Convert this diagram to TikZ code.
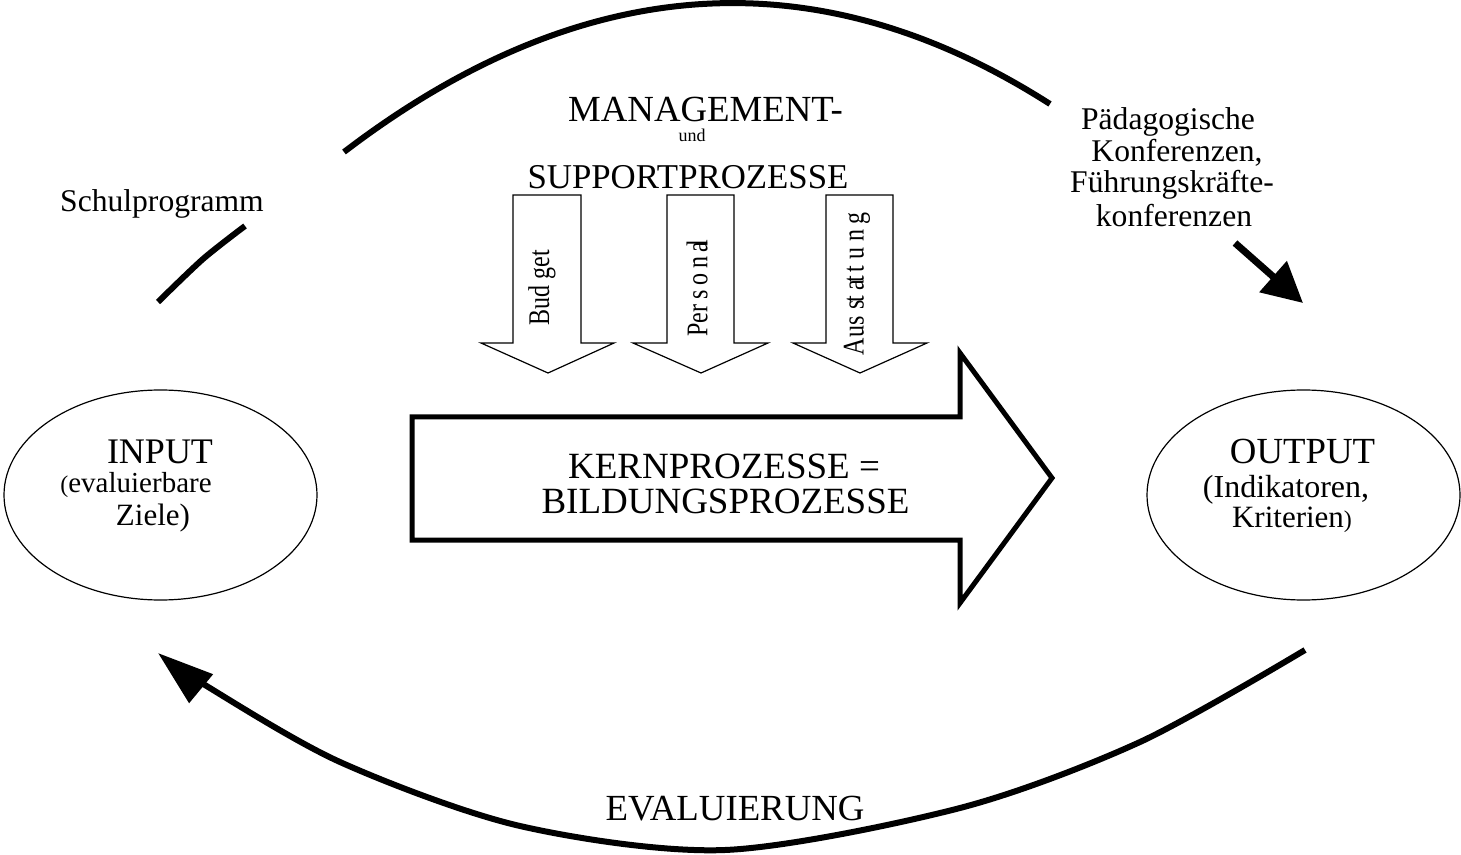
\documentclass[tikz,border=0pt]{standalone}
\usepackage{fontspec}
\setmainfont{Liberation Serif}
\usetikzlibrary{arrows.meta,shapes.geometric}
\newcommand\fsz[1]{\fontsize{#1pt}{#1pt}\selectfont}
\newcommand\narrow[1]{\scalebox{0.8}[1]{#1}}
\begin{document}
\begin{tikzpicture}[x=0.5pt,y=-0.5pt,
  txt/.style={inner sep=0pt,anchor=base},
  ell/.style={draw,ellipse,line width=0.6pt,minimum width=156.5pt,minimum height=105pt,inner sep=0pt},
  arcline/.style={line width=3pt},
  downarr/.style={draw,line width=0.6pt,line join=miter},
  rottxt/.style={rotate=90,inner sep=0pt,font=\fsz{15}},
  bigarr/.style={draw,line width=2.5pt,line join=miter}
]
\useasboundingbox (0,0) rectangle (1461,855);

% ellipses
\node[ell] (inE) at (160.5,495) {};
\node[ell] (outE) at (1303.5,495) {};

% ellipse texts
\node[txt,font=\fsz{18}] (inT1) at (160,463) {INPUT};
\node[txt,font=\fsz{14.5}] (inT2) at (136,492) {{\fsz{12}(}evaluierbare};
\node[txt,font=\fsz{15.5}] (inT3) at (153,525) {Ziele)};
\node[txt,font=\fsz{18.4}] (outT1) at (1302.5,463) {OUTPUT};
\node[txt,font=\fsz{16}] (outT2) at (1286,497) {(Indikatoren,};
\node[txt,font=\fsz{15.5}] (outT3) at (1292,527) {Kriterien{\fsz{12})}};

% management texts
\node[txt,font=\fsz{18.4}] (mg1) at (705.5,122) {MANAGEMENT-};
\node[txt,font=\fsz{9}] (mg2) at (692,142) {und};
\node[txt,font=\fsz{17.4}] (mg3) at (688,189) {SUPPORTPROZESSE};

% down arrows
\coordinate (b1) at (548,373);
\draw[downarr] (513,195) -- (581,195) -- (581,343) -- (614,343) -- (b1) -- (481,343) -- (513,343) -- cycle;
\coordinate (b2) at (701,373);
\draw[downarr] (667,195) -- (734,195) -- (734,343) -- (768,343) -- (b2) -- (633,343) -- (667,343) -- cycle;
\coordinate (b3) at (860,373);
\draw[downarr] (826,195) -- (893,195) -- (893,343) -- (927,343) -- (b3) -- (793,343) -- (826,343) -- cycle;
\node[rottxt] (tb) at (542,288) {\narrow{Bud get}};
\node[rottxt] (tp) at (697,288) {\narrow{Per\hspace{0.2em}s\hspace{0.2em}o\hspace{0.2em}n\hspace{0.2em}a\kern-0.2em l}};
\node[rottxt] (ta) at (857,284) {\narrow{Aus\hspace{0.3em}s\kern-0.12em t\hspace{0.25em}a\kern-0.12em t\hspace{0.15em}t\hspace{0.25em}u\hspace{0.25em}n\hspace{0.2em}g}};

% big arrow
\coordinate (kTip) at (1052,478);
\draw[bigarr] (412,417) -- (960,417) -- (960,353) -- (kTip) -- (960,603) -- (960,540) -- (412,540) -- cycle;
\node[txt,font=\fsz{18.5}] (k1) at (724,478) {KERNPROZESSE =};
\node[txt,font=\fsz{18.5}] (k2) at (725.5,513) {BILDUNGSPROZESSE};

% top arc
\draw[arcline] plot[smooth] coordinates {(158,302) (203,259) (245,226)};
\coordinate (ta1) at (344,152);
\coordinate (ta2) at (1050,104);
\draw[arcline] (ta1) .. controls (581,-29) and (817,-45) .. (ta2);
\node[txt,font=\fsz{15.8}] (schul) at (162,212) {Schulprogramm};

% right texts and arrow
\node[txt,font=\fsz{15.8}] (p1) at (1168,130) {Pädagogische};
\node[txt,font=\fsz{15.8}] (p2) at (1177,162) {Konferenzen,};
\node[txt,font=\fsz{15.8}] (p3) at (1172,193) {Führungskräfte-};
\node[txt,font=\fsz{15.8}] (p4) at (1174,227) {konferenzen};
\coordinate (pa) at (1235,243);
\coordinate (pb) at (1303,303);
\draw[line width=3.5pt,-{Triangle[length=20pt,width=20pt]}] (pa) -- (pb);

% bottom arc
\draw[arcline,-{Triangle[length=28pt,width=18pt]}] plot[smooth] coordinates {(1305,650) (1140,742) (960,808) (725,850) (520,826) (340,762) (200,682) (158,653)};
\node[txt,font=\fsz{18.4}] (eval) at (735,820) {EVALUIERUNG};
\end{tikzpicture}
\end{document}
